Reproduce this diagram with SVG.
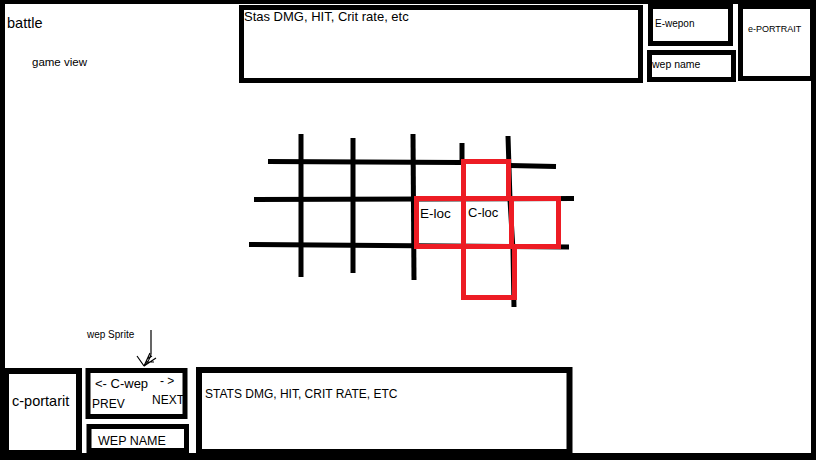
<svg xmlns="http://www.w3.org/2000/svg" width="819" height="460" viewBox="0 0 819 460">
<style>
.box{fill:#fff;stroke:#000;stroke-width:5}
.t{font-family:"Liberation Sans",Arial,sans-serif;fill:#000}
.g{fill:none;stroke:#000;stroke-width:5}
.r{fill:none;stroke:#ED1C24;stroke-width:5}
.a{fill:none;stroke:#000;stroke-width:1.2}
</style>
<rect x="0" y="0" width="819" height="460" fill="#000"/>
<rect x="5" y="4" width="806" height="449" fill="#fff"/>
<rect x="816" y="0" width="3" height="460" fill="#fff"/>
<g id="battle"><text class="t" x="7" y="28" font-size="14.5">battle</text></g>
<g id="game-view"><text class="t" x="32" y="66" font-size="11.5">game view</text></g>
<g id="stats-top"><rect class="box" x="241.5" y="7.5" width="399" height="73"/><text class="t" x="244" y="21" font-size="13">Stas DMG, HIT, Crit rate, etc</text></g>
<g id="e-wepon"><rect class="box" x="650.5" y="6.5" width="80" height="37"/><text class="t" x="655" y="27" font-size="10">E-wepon</text></g>
<g id="wep-name"><rect class="box" x="649.5" y="52.5" width="84" height="27"/><text class="t" x="652" y="68" font-size="10.5">wep name</text></g>
<g id="e-portrait"><rect class="box" x="740.5" y="6.5" width="72" height="72"/><text class="t" x="748" y="32" font-size="9">e-PORTRAIT</text></g>
<g id="grid">
<path class="g" d="M268 161.5 L462 162.5 M510 165.5 L556 166.5"/>
<path class="g" d="M254 199.5 L574 198.5"/>
<path class="g" d="M249 244.5 L569 247"/>
<path class="g" d="M301 134 L301 277"/>
<path class="g" d="M353 138 L353 273"/>
<path class="g" d="M413 134 L414 280"/>
<path class="g" d="M462 143 L462 162"/>
<path class="g" d="M508 136 L510 200 L513 250 L514 307"/>
</g>
<g id="loc-top"><rect class="r" x="463.5" y="161.5" width="45" height="37"/></g>
<g id="e-loc"><rect class="r" x="416.5" y="198.5" width="47" height="48"/><text class="t" x="420" y="218" font-size="13.5">E-loc</text></g>
<g id="c-loc"><rect class="r" x="463.5" y="198.5" width="48" height="48"/><text class="t" x="468" y="217" font-size="13">C-loc</text></g>
<g id="loc-right"><rect class="r" x="511.5" y="198.5" width="47" height="48"/></g>
<g id="loc-bottom"><rect class="r" x="463.5" y="246.5" width="51" height="51"/></g>
<g id="wep-sprite"><text class="t" x="87" y="338" font-size="10">wep Sprite</text></g>
<g id="connectors">
<path class="a" d="M151 330 L151 354 Q150 360 144 366"/>
<path class="a" d="M144 366 L137 356 M144 366 L150 353 M144 366 L156 358 M146 362 L154 362 M147 359 L152 356"/>
</g>
<g id="c-portarit"><rect x="6" y="371" width="73" height="82" fill="#fff" stroke="#000" stroke-width="6"/><text class="t" x="12" y="406" font-size="14.5">c-portarit</text></g>
<g id="c-wep"><rect class="box" x="88" y="370.5" width="97" height="46"/>
<text class="t" x="95" y="388" font-size="13">&lt;- C-wep</text>
<text class="t" x="160" y="385" font-size="12">- &gt;</text>
<text class="t" x="92" y="408" font-size="12">PREV</text>
<text class="t" x="152" y="404" font-size="12">NEXT</text></g>
<g id="wep-name-bottom"><rect class="box" x="89" y="426.5" width="97.5" height="24"/><text class="t" x="98" y="445" font-size="12.5">WEP NAME</text></g>
<g id="stats-bottom"><rect x="199" y="370" width="370.5" height="82" fill="#fff" stroke="#000" stroke-width="6"/><text class="t" x="205" y="398" font-size="12">STATS DMG, HIT, CRIT RATE, ETC</text></g>
</svg>
